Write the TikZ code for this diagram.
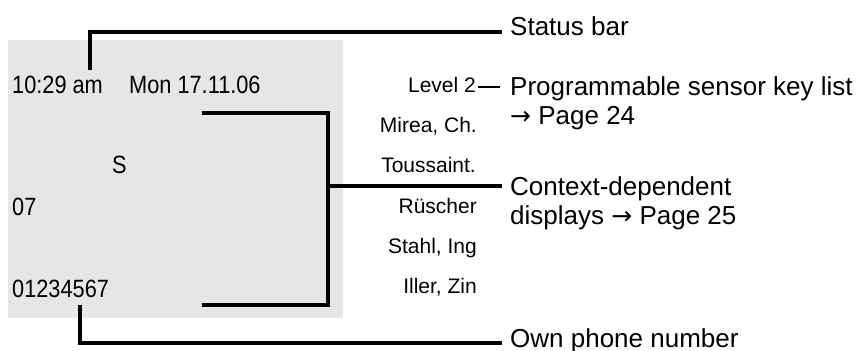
\documentclass[tikz,border=0pt]{standalone}
\usepackage{fontspec}
\setmainfont{Liberation Sans}
\newfontfamily\lcdfont[FakeStretch=0.87]{Liberation Sans}
\newfontfamily\arrowfont{DejaVu Sans}
\usepackage{xcolor}
\usepackage{tikz}
\definecolor{lcdgray}{RGB}{230,230,230}
\newcommand{\pgref}{{\arrowfont\fontsize{25}{29}\selectfont →}}

\begin{document}
\begin{tikzpicture}[x=1pt, y=-1pt,
  lcd/.style={inner sep=0pt, anchor=base west, font=\lcdfont\fontsize{25}{30}\selectfont},
  keytext/.style={inner sep=0pt, anchor=base east, font=\fontsize{21}{25}\selectfont},
  note/.style={inner xsep=8pt, inner ysep=0pt, anchor=base west, align=left, font=\fontsize{26}{29}\selectfont},
  leader/.style={line width=3.3pt},
]
\useasboundingbox (0,0) rectangle (863,351);
\fill[lcdgray] (8,40) rectangle (343,318);

% display contents
\node[lcd] (clock) at (12,93)  {10:29 am};
\node[lcd] (date)  at (129,93) {Mon 17.11.06};
\node[lcd] (slot)  at (112,173) {S};
\node[lcd] (code)  at (12,215) {07};
\node[lcd] (ownno) at (12,297) {01234567};

\node[keytext] (lvl)  at (476,92)  {Level 2};
\node[keytext] (key1) at (477,132) {Mirea, Ch.};
\node[keytext] (key2) at (476,172) {Toussaint.};
\node[keytext] (key3) at (477,213) {Rüscher};
\node[keytext] (key4) at (477,253) {Stahl, Ing};
\node[keytext] (key5) at (477,293) {Iller, Zin};

% explanations (base = last line)
\node[note] (status)   at (502,35)  {Status bar};
\node[note] (proglist) at (502,124) {Programmable sensor key list\\\pgref\ Page 24};
\node[note] (context)  at (502,224) {Context-dependent\\displays \pgref\ Page 25};
\node[note] (ownlbl)   at (502,347) {Own phone number};

% leaders
\coordinate (stfoot) at (90,70);
\coordinate (stin) at ([yshift=3pt]status.base west);
\draw[leader] (stfoot) |- (stin);

\coordinate (lvlend) at ([yshift=5pt]lvl.base east);
\draw[line width=2.7pt] ([xshift=2pt]lvlend) -- ([xshift=-2pt]lvlend -| proglist.west);

\coordinate (ctxa) at (202,113);
\coordinate (ctxb) at (328,113);
\coordinate (ctxc) at (328,305);
\coordinate (ctxd) at (202,305);
\draw[leader] (ctxa) -- (ctxb) -- (ctxc) -- (ctxd);
\coordinate (ctxin) at ([yshift=38pt]context.base west);
\draw[leader] (ctxin -| ctxb) -- (ctxin);

\coordinate (ownfoot) at (80,305);
\coordinate (ownin) at ([yshift=4pt]ownlbl.base west);
\draw[leader] (ownfoot) |- (ownin);
\end{tikzpicture}
\end{document}
